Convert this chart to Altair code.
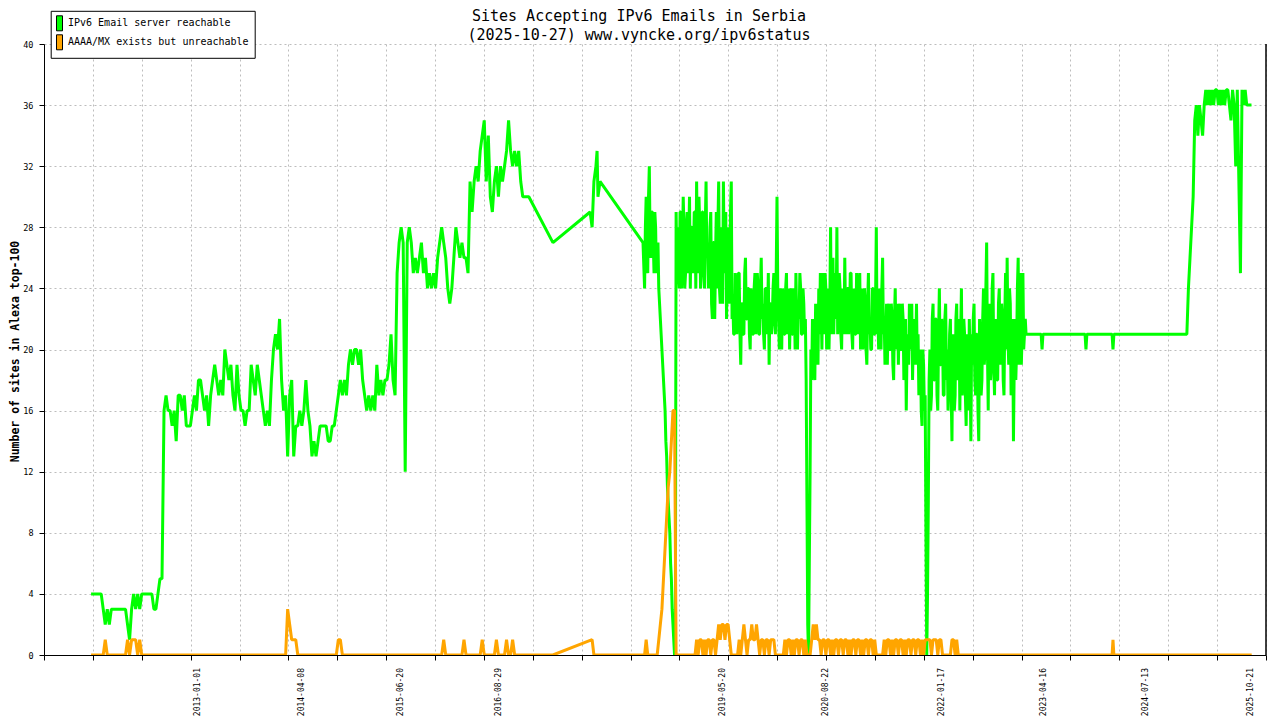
import altair as alt
import pandas as pd

TITLE = ["Sites Accepting IPv6 Emails in Serbia", "(2025-10-27) www.vyncke.org/ipv6status"]
Y_TITLE = "Number of sites in Alexa top-100"
SERIES = ["IPv6 Email server reachable", "AAAA/MX exists but unreachable"]
COLORS = ["#00ff00", "#ffa500"]
Y_TICKS = [0, 4, 8, 12, 16, 20, 24, 28, 32, 36, 40]
X_LABEL_DATES = ["2013-01-01", "2014-04-08", "2015-06-20", "2016-08-29", "2019-05-20",
                 "2020-08-22", "2022-01-17", "2023-04-16", "2024-07-13", "2025-10-21"]

# ---------------- IPv6 Email server reachable (green) ----------------
# measurements every 9 days from 2011-09-14
GREEN_2011_2013 = [4, 4, 4, 4, 4, 4, 3, 2, 3, 2, 3, 3, 3, 3, 3, 3, 3, 3, 2, 1, 3,
                   4, 3, 4, 3, 4, 4, 4, 4, 4, 4, 3, 3, 4, 5, 5, 16, 17,
                   16, 16, 15, 16, 14, 17, 17, 16, 17, 15, 15, 15, 16, 17, 16,
                   18, 18, 17, 16, 17, 15, 17, 18, 19, 18, 17, 18, 17, 20, 19,
                   18, 19, 17, 16, 19, 17, 16, 16, 15, 16, 16, 19, 18, 17, 19, 18, 17,
                   16, 15, 16, 15, 18, 20, 21, 20, 22, 18, 16, 17, 13, 17, 18, 13, 15]
GREEN_2014_2015 = [15, 16, 15, 16, 18, 16, 15, 13, 14, 13, 14, 15, 15, 15, 15, 14, 14,
                   15, 15, 16, 17, 18, 17, 18, 17, 19, 20, 19, 20, 20, 19, 20, 18, 17,
                   16, 17, 16, 17, 16, 19, 17, 18, 17, 18, 18, 19, 21, 18, 17,
                   25, 27, 28, 27, 12, 27, 28, 27, 25, 26, 25, 26, 27, 25, 26]
GREEN_2015_2017 = [24, 25, 24, 25, 24, 26, 27, 28, 27, 26, 24, 23, 24, 26, 28, 27, 26,
                   27, 26, 26, 25, 31, 29, 31, 32, 31, 33, 34, 35, 31, 34, 30, 29,
                   31, 32, 30, 32, 31, 32, 33, 35, 33, 32, 33, 32, 33, 31, 30, 30, 30, 30]
GREEN_2017_2018 = [("2017-04-26", 27), ("2017-10-08", 29), ("2017-10-17", 28),
                   ("2017-10-25", 31), ("2017-11-03", 32), ("2017-11-08", 33),
                   ("2017-11-12", 30), ("2017-11-21", 31), ("2018-05-31", 27)]
# measurements twice a week from 2018-06-07: start-of-week values and mid-week values
GREEN_2018_2019 = [24, 30, 25, 32, 26, 29, 25, 28, 26, 24, 22, 20, 18, 16, 13, 10, 8, 5, 2, 0, 29,
                   28, 24, 29, 26, 28, 25, 29, 27, 24, 28, 26, 29, 31, 25, 28, 26, 29, 24, 31, 27,
                   25, 29, 22, 27, 26, 24, 31, 23, 28, 31, 25, 22, 28, 24, 31]
GREEN_2018_2019_MID = [28, 26, 30, 27, 29, 27, 29, 25, 27, 23, 21, 19, 17, 14, 11, 9, 6, 3, 1, 0, 25,
                       25, 29, 24, 30, 24, 28, 25, 30, 28, 25, 29, 24, 27, 30, 24, 29, 25, 28, 26, 24,
                       28, 23, 27, 22, 29, 28, 24, 27, 23, 26, 29, 27, 23, 29, 22]
GREEN_2019_2020 = [23, 21, 24, 22, 25, 19, 23, 21, 26, 22, 24, 20, 23, 21, 25, 22, 24, 21,
                   26, 23, 20, 24, 22, 19, 23,
                   22, 25, 21, 30, 22, 24, 20, 23, 21, 25, 22, 20, 24, 21, 23, 25, 20, 22, 24, 21, 23, 22]
GREEN_2019_2020_MID = [21, 25, 21, 25, 21, 23, 21, 25, 22, 24, 21, 24, 21, 24, 21, 25, 21, 24,
                       22, 21, 24, 21, 25, 23, 21,
                       24, 22, 25, 24, 20, 21, 24, 21, 24, 21, 24, 23, 21, 24, 20, 22, 23, 25, 21, 24, 21, 18]
GREEN_2020_2021 = [10, 0, 12, 18, 21, 18, 22, 19, 21, 23, 25, 21, 24, 22, 20, 28, 23, 21, 25, 28,
                   22, 24, 20, 23, 26, 21, 24, 22, 25, 20, 23, 21, 24,
                   22, 20, 24, 21, 23, 19, 25, 22, 20, 24, 21, 28, 22, 24, 20, 26, 22,
                   21, 19, 23, 20, 22, 18, 24, 21, 19, 23, 20, 22, 19, 16, 21, 23, 20, 18, 22, 20, 19]
GREEN_2020_2021_MID = [2, 6, 20, 22, 19, 23, 20, 24, 25, 20, 22, 25, 20, 24, 23, 21, 26, 24, 22, 21,
                       25, 21, 24, 21, 22, 24, 21, 25, 21, 24, 21, 25, 21,
                       25, 23, 20, 24, 20, 23, 21, 20, 24, 21, 23, 21, 20, 21, 24, 21, 19,
                       23, 22, 20, 23, 19, 22, 20, 23, 22, 20, 23, 18, 22, 20, 19, 21, 23, 21, 19, 23, 21]
GREEN_2021_2023 = [17, 20, 15, 19, 17, 0, 10, 20, 17, 23, 18, 22, 16, 24, 19, 21, 17, 23, 20,
                   18, 22, 14, 20, 17, 23, 19, 16, 24, 18, 21, 15, 20, 22, 14, 19, 23, 17, 21, 14, 20,
                   18, 24, 20, 27, 16, 22, 19, 25, 17,
                   21, 18, 24, 20, 22, 17, 25, 26, 19, 23, 18, 14, 22,
                   20, 26, 22, 19, 25, 21, 21]
GREEN_2021_2023_MID = [19, 16, 20, 16, 8, 4, 18, 16, 22, 18, 22, 17, 21, 19, 22, 17, 22, 18, 16,
                       21, 17, 21, 16, 22, 18, 22, 21, 17, 22, 17, 21, 16, 19, 21, 22, 18, 21, 16, 22, 17,
                       22, 19, 24, 20, 23, 18, 24, 19, 22,
                       18, 23, 19, 23, 18, 22, 20, 21, 24, 17, 22, 19, 18,
                       24, 19, 25, 21, 20, 22, 21]
GREEN_2023_2024 = [("2023-02-03", 21), ("2023-04-03", 21), ("2023-04-07", 20), ("2023-04-11", 21),
                   ("2023-10-15", 21), ("2023-10-19", 20), ("2023-10-23", 21),
                   ("2024-02-12", 21), ("2024-02-16", 20), ("2024-02-20", 21), ("2025-01-09", 21)]
# measurements every 7 days from 2025-01-16
GREEN_2025 = [24, 26, 28, 30, 35, 36, 34, 36, 35, 34, 36, 37, 36,
              37, 36, 37, 36, 37, 37, 36, 37, 36, 37, 36, 37, 37, 36,
              35, 37, 36, 32, 37, 31, 25, 37, 36, 37, 36, 36, 36, 36]

# ---------------- AAAA/MX exists but unreachable (orange) ----------------
# on the 9-day grid from 2011-09-14: index -> value (all other samples are 0)
ORANGE_2011_2017_SPIKES = {7: 1, 18: 1, 20: 1, 21: 1, 22: 1, 24: 1, 97: 3, 98: 2, 99: 1,
                           100: 1, 101: 1, 122: 1, 123: 1, 174: 1, 184: 1, 193: 1,
                           200: 1, 205: 1, 208: 1}
ORANGE_2017_2018 = [("2017-04-26", 0), ("2017-10-17", 1), ("2017-10-25", 0), ("2018-05-31", 0)]
# on the 7-day grid from 2018-06-07
ORANGE_2018_2019 = [0, 1, 0, 0, 0, 0, 0, 0, 0, 1, 2, 3, 5, 7, 9, 11, 12, 14, 16, 16, 0,
                    0, 0, 0, 0, 0, 0, 0, 0, 0, 0, 0, 0,
                    1, 0, 1, 1, 0, 1, 0, 1, 1, 0, 1, 1, 0, 1, 2, 1, 2, 2, 1, 2, 2, 1,
                    0, 0, 0, 0, 0, 1, 0, 1, 2, 1, 0, 1, 1, 2, 1, 1, 2]
ORANGE_2019_2020 = [1, 0, 1, 1, 0, 1, 1, 0, 1, 1, 1, 0, 0, 0, 0, 0, 0,
                    1, 0, 1, 1, 0, 1, 0, 1, 1, 0, 1, 1, 0, 1, 0, 0, 0, 1, 2, 1, 2, 1]
ORANGE_2020_2021 = [1, 0, 1, 1, 0, 1, 1, 0, 1, 0, 1, 1, 0, 1, 1, 0, 1, 1, 0, 1, 0, 1, 1, 0,
                    1, 1, 0, 1, 0, 1, 1, 0, 1, 1, 0, 1, 0, 0, 0, 0, 0,
                    1, 0, 1, 1, 0, 1, 0, 1, 1, 0, 1, 1, 0, 1, 0, 1, 1, 0, 1, 1, 0, 1, 1, 0, 1, 0, 1, 1]
ORANGE_2021_2023 = [1, 1, 0, 1, 1, 1, 0, 1, 1, 0, 0, 0, 0, 0, 0, 1, 1, 0, 1,
                    0, 0, 0, 0, 0, 0, 0, 0, 0, 0, 0, 0, 0, 0, 0, 0, 0, 0, 0, 0, 0, 0,
                    0, 0, 0, 0, 0, 0, 0, 0, 0, 0, 0, 0, 0, 0, 0, 0, 0, 0, 0, 0, 0, 0]
ORANGE_2023_2025 = [("2023-02-03", 0), ("2024-02-12", 0), ("2024-02-16", 1),
                    ("2024-02-20", 0), ("2025-10-24", 0)]


def on_grid(start, freq, values):
    dates = pd.date_range(start, periods=len(values), freq=freq)
    return list(zip(dates.strftime("%Y-%m-%dT%H:%M:%SZ"), values))


def iso(points):
    return [(d + "T00:00:00Z", v) for d, v in points]


def interleave(a, b):
    return [v for pair in zip(a, b) for v in pair]


g1 = GREEN_2011_2013 + GREEN_2014_2015 + GREEN_2015_2017
g2 = (interleave(GREEN_2018_2019, GREEN_2018_2019_MID) + interleave(GREEN_2019_2020, GREEN_2019_2020_MID)
      + interleave(GREEN_2020_2021, GREEN_2020_2021_MID) + interleave(GREEN_2021_2023, GREEN_2021_2023_MID))
green_rows = (on_grid("2011-09-14", "9D", g1) + iso(GREEN_2017_2018) + on_grid("2018-06-07", "84h", g2)
              + iso(GREEN_2023_2024) + on_grid("2025-01-16", "7D", GREEN_2025))

o1 = [ORANGE_2011_2017_SPIKES.get(i, 0) for i in range(len(g1))]
o2 = ORANGE_2018_2019 + ORANGE_2019_2020 + ORANGE_2020_2021 + ORANGE_2021_2023
orange_rows = (on_grid("2011-09-14", "9D", o1) + iso(ORANGE_2017_2018) + on_grid("2018-06-07", "7D", o2)
               + iso(ORANGE_2023_2025))

green_df = pd.DataFrame(green_rows, columns=["date", "value"])
orange_df = pd.DataFrame(orange_rows, columns=["date", "value"])
labels_df = pd.DataFrame({"date": [d + "T00:00:00Z" for d in X_LABEL_DATES], "label": X_LABEL_DATES})
legend_df = pd.DataFrame({"series": SERIES})

W, H = 1222, 611
FONT = "DejaVu Sans Mono"

dom_start = pd.Timestamp("2011-02-17")
dom_end = pd.Timestamp("2025-12-26 12:00")
to_ms = lambda t: int(t.value // 10**6)
tick_vals = [to_ms(dom_start + (dom_end - dom_start) * k / 25) for k in range(26)]

xscale = alt.Scale(domain=[to_ms(dom_start), to_ms(dom_end)])
yscale = alt.Scale(domain=[0, 40], nice=False, zero=True)

xaxis = alt.Axis(values=tick_vals, labels=False, title=None, grid=True, gridDash=[2, 3],
                 gridColor="#bdbdbd", gridWidth=1, domainColor="black", tickColor="black",
                 tickSize=5, domainWidth=1)
yaxis = alt.Axis(values=Y_TICKS, grid=True, gridDash=[2, 3], gridColor="#bdbdbd", gridWidth=1,
                 domainColor="black", tickColor="black", tickSize=5, labelFont=FONT,
                 labelFontSize=8.5, labelColor="black", labelPadding=6, title=Y_TITLE,
                 titleFont=FONT, titleFontSize=11.5, titleFontWeight="bold", titleColor="black",
                 titleAngle=270, titleX=-29, titleY=307, titleAlign="center",
                 titleBaseline="middle")

x_enc = alt.X("date:T", scale=xscale, axis=xaxis)
y_enc = alt.Y("value:Q", scale=yscale, axis=yaxis)

green = alt.Chart(green_df).mark_line(color=COLORS[0], strokeWidth=3, strokeJoin="bevel",
                                      clip=True).encode(x=x_enc, y=y_enc)
orange = alt.Chart(orange_df).mark_line(color=COLORS[1], strokeWidth=3, strokeJoin="bevel",
                                        clip=True).encode(x=x_enc, y=y_enc)

xlabels = alt.Chart(labels_df).mark_text(angle=270, align="right", baseline="middle",
                                         font=FONT, fontSize=8, color="black").encode(
    x=x_enc, y=alt.value(H + 13), text="label:N")

right_rule = alt.Chart(legend_df).mark_rule(color="black", strokeWidth=1).encode(
    x=alt.value(W), y=alt.value(0), y2=alt.value(H))

sym_path = "M-0.5,-1.25H0.5V1.25H-0.5Z"
legend_layer = alt.Chart(legend_df).mark_point(filled=True, opacity=1, shape=sym_path).encode(
    fill=alt.Fill("series:N", scale=alt.Scale(domain=SERIES, range=COLORS),
                  legend=alt.Legend(orient="none", legendX=6.7, legendY=-33.2,
                                    direction="vertical", title=None,
                                    strokeColor="black", fillColor="white", padding=6,
                                    symbolType=sym_path, symbolSize=144, symbolOpacity=1,
                                    symbolStrokeColor="black", symbolStrokeWidth=1,
                                    symbolOffset=-3.7, labelOffset=2, rowPadding=0,
                                    labelFont=FONT, labelFontSize=10, labelColor="black",
                                    labelLimit=400))).transform_filter("false")

chart = alt.layer(green, orange, xlabels, right_rule, legend_layer).properties(
    width=W, height=H,
    title=alt.TitleParams(text=TITLE, font=FONT, fontSize=15, fontWeight="normal",
                          color="black", anchor="middle", dx=-16, dy=37.5, offset=5,
                          lineHeight=19),
    padding={"left": 36, "top": 36, "right": 6, "bottom": 64},
    autosize=alt.AutoSizeParams(type="none"),
    background="white",
).configure_view(stroke=None)

chart.save("out.html", embed_options={"renderer": "svg", "actions": False})
